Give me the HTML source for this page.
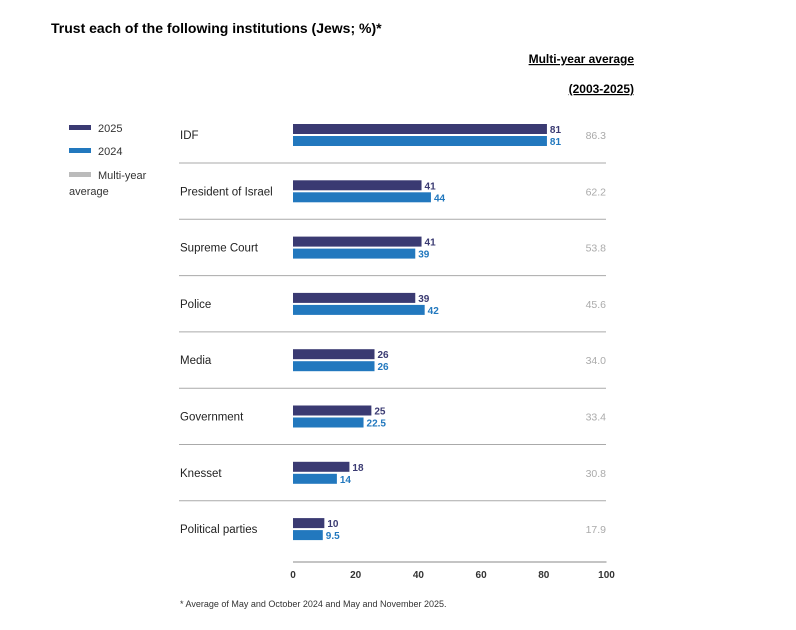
<!DOCTYPE html>
<html><head><meta charset="utf-8"><style>
body{margin:0;background:#fff;font-family:"Liberation Sans",sans-serif;}
svg text{font-family:"Liberation Sans",sans-serif;}
</style></head><body>
<svg width="796" height="625">
<text x="51" y="33" font-size="14" font-weight="bold" fill="#000">Trust each of the following institutions (Jews; %)*</text>
<text x="634" y="63" font-size="12" font-weight="bold" text-anchor="end" text-decoration="underline">Multi-year average</text>
<text x="634" y="93" font-size="12" font-weight="bold" text-anchor="end" text-decoration="underline">(2003-2025)</text>
<g>
<rect x="69" y="125" width="22" height="5" fill="#3a3a72"/>
<text x="98" y="132" font-size="11" fill="#333">2025</text>
<rect x="69" y="148" width="22" height="5" fill="#2278be"/>
<text x="98" y="155" font-size="11" fill="#333">2024</text>
<rect x="69" y="172" width="22" height="5" fill="#bbb"/>
<text x="98" y="179" font-size="11" fill="#333">Multi-year</text>
<text x="69" y="195" font-size="11" fill="#333">average</text>
</g>
<g id="plot"></g>
<text x="180" y="607" font-size="9" fill="#333">* Average of May and October 2024 and May and November 2025.</text>
</svg>
<script>
const categories=["IDF","President of Israel","Supreme Court","Police","Media","Government","Knesset","Political parties"];
const values2025=[81,41,41,39,26,25,18,10];
const values2024=[81,44,39,42,26,22.5,14,9.5];
const avgValues=["86.3","62.2","53.8","45.6","34.0","33.4","30.8","17.9"];
const ticks=[0,20,40,60,80,100];
const NS="http://www.w3.org/2000/svg",g=document.getElementById("plot");
const x=v=>293+v*3.135, rowY=i=>135+i*56.3;
function mk(t,a,txt){const e=document.createElementNS(NS,t);for(const k in a)e.setAttribute(k,a[k]);if(txt!=null)e.textContent=txt;g.appendChild(e);return e;}
categories.forEach((c,i)=>{
 const cy=rowY(i);
 let e=mk("text",{x:180,y:cy+4,"font-size":11.5,fill:"#222"},c);
 
 
 e=mk("rect",{x:x(0),y:cy-11,width:x(values2025[i])-x(0),height:10,fill:"#3a3a72"});
 
 
 e=mk("rect",{x:x(0),y:cy+1,width:x(values2024[i])-x(0),height:10,fill:"#2278be"});
 
 
 e=mk("text",{x:x(values2025[i])+3,y:cy-2,"font-size":10,"font-weight":"bold",fill:"#3a3a72"},values2025[i]);
 
 
 e=mk("text",{x:x(values2024[i])+3,y:cy+10,"font-size":10,"font-weight":"bold",fill:"#2278be"},values2024[i]);
 
 
 e=mk("text",{x:606,y:cy+4,"font-size":10.5,fill:"#aaa","text-anchor":"end"},avgValues[i]);
 
 
 if(i<categories.length-1){
  e=mk("line",{x1:179,x2:606,y1:cy+28,y2:cy+28,stroke:"#aaa","stroke-width":1});
  
  
 }
});
let ax=mk("line",{x1:x(0),x2:x(100),y1:562,y2:562,stroke:"#888","stroke-width":1});


ticks.forEach(t=>{
 const e=mk("text",{x:x(t),y:578,"font-size":10,"font-weight":"bold",fill:"#333","text-anchor":"middle"},t);
 
 
});
</script>
</body></html>
